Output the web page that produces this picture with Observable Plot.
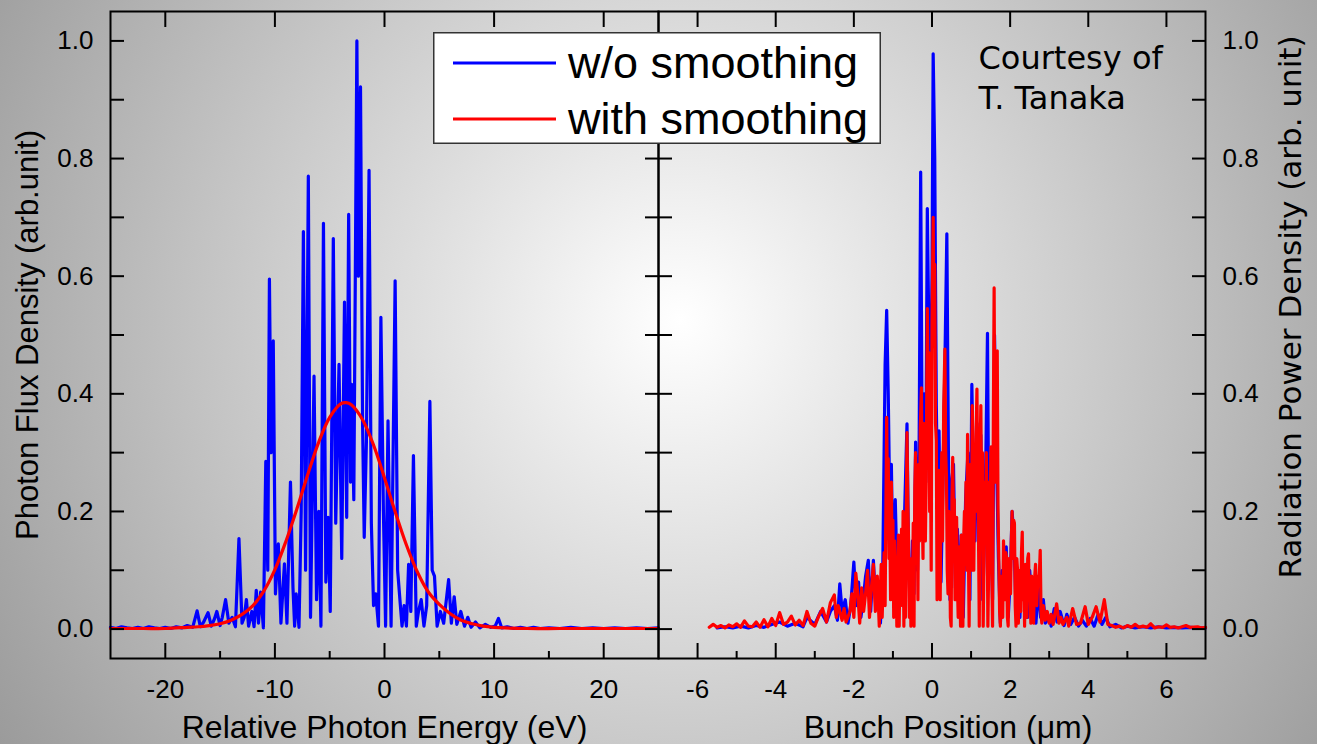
<!DOCTYPE html>
<html>
<head>
<meta charset="utf-8">
<script src="https://cdn.jsdelivr.net/npm/d3@7"></script>
<script src="https://cdn.jsdelivr.net/npm/@observablehq/plot@0.6"></script>
<style>
  html, body { margin: 0; padding: 0; }
  #page {
    position: relative; width: 1317px; height: 744px; overflow: hidden;
    background: radial-gradient(circle at 680px 320px, #ffffff 0px, #9b9b9b 801px);
    font-family: "Liberation Sans", Arial, sans-serif;
  }
  .layer { position: absolute; left: 0; top: 0; }
</style>
</head>
<body>
<div id="page"></div>
<script>
// ---------- tick values ----------
const leftXMajor = [-20, -10, 0, 10, 20];
const leftXMinor = [-15, -5, 5, 15];
const rightXMajor = [-6, -4, -2, 0, 2, 4, 6];
const rightXMinor = [-5, -3, -1, 1, 3, 5];
const yMajor = [0, 0.2, 0.4, 0.6, 0.8, 1.0];
const yMinor = [0, 0.1, 0.2, 0.3, 0.4, 0.5, 0.6, 0.7, 0.8, 0.9, 1.0];

// ---------- text ----------
const leftXTitle = "Relative Photon Energy (eV)";
const rightXTitle = "Bunch Position (μm)";
const leftYTitle = "Photon Flux Density (arb.unit)";
const rightYTitle = "Radiation Power Density (arb. unit)";
const seriesNames = ["w/o smoothing", "with smoothing"];
const seriesColors = ["#0000ff", "#ff0000"];
const courtesy = "Courtesy of\nT. Tanaka";

// ---------- left panel: spectrum w/o smoothing [eV, value] ----------
const spectrumRaw = [
  [-25,0.003],[-24.5,0.001],[-24,0.004],[-23.5,0.002],[-23,0.001],[-22.5,0.003],[-22,0.001],
  [-21.5,0.004],[-21,0.002],[-20.5,0.001],[-20,0.003],[-19.5,0.001],[-19,0.004],[-18.5,0.002],
  [-18,0.006],[-17.5,0.003],[-17.1,0.031],[-16.8,0.004],[-16.5,0.012],[-16.1,0.028],[-15.8,0.005],
  [-15.5,0.018],[-15.3,0.03],[-15,0.006],[-14.8,0.02],[-14.5,0.05],[-14.2,0.01],[-13.9,0.02],
  [-13.6,0.004],[-13.28,0.154],[-13.0,0.01],[-12.8,0.02],[-12.6,0.05],[-12.4,0.005],[-12.1,0.03],
  [-11.9,0.004],[-11.7,0.066],[-11.5,0.01],[-11.3,0.063],[-11.05,0.002],[-10.83,0.285],[-10.65,0.1],
  [-10.5,0.595],[-10.35,0.3],[-10.15,0.49],[-9.95,0.06],[-9.69,0.145],[-9.45,0.01],[-9.13,0.111],
  [-8.9,0.01],[-8.58,0.25],[-8.35,0.07],[-8.2,0.005],[-8.06,0.06],[-7.8,0.003],[-7.6,0.2],
  [-7.4,0.676],[-7.2,0.1],[-6.95,0.77],[-6.75,0.02],[-6.43,0.43],[-6.2,0.05],[-6.0,0.2],
  [-5.8,0.005],[-5.57,0.69],[-5.35,0.08],[-5.15,0.19],[-4.95,0.03],[-4.67,0.664],[-4.45,0.18],
  [-4.15,0.45],[-3.9,0.12],[-3.65,0.556],[-3.45,0.19],[-3.27,0.705],[-3.1,0.25],[-3.0,0.416],
  [-2.8,0.22],[-2.52,1.0],[-2.38,0.6],[-2.19,0.922],[-2.0,0.35],[-1.85,0.156],[-1.65,0.32],
  [-1.41,0.78],[-1.2,0.18],[-1.0,0.04],[-0.8,0.06],[-0.55,0.005],[-0.33,0.53],[-0.1,0.2],
  [0.1,0.005],[0.32,0.354],[0.6,0.005],[0.97,0.592],[1.2,0.1],[1.45,0.04],[1.6,0.005],
  [1.79,0.04],[2.0,0.005],[2.2,0.11],[2.4,0.03],[2.64,0.295],[2.9,0.005],[3.1,0.03],
  [3.35,0.05],[3.6,0.005],[3.85,0.04],[4.14,0.387],[4.35,0.1],[4.56,0.09],[4.8,0.005],
  [5.1,0.03],[5.4,0.01],[5.85,0.084],[6.1,0.01],[6.36,0.055],[6.6,0.008],[6.96,0.03],
  [7.3,0.005],[7.6,0.02],[7.9,0.003],[8.3,0.012],[8.7,0.002],[9.2,0.008],[9.7,0.003],
  [10.1,0.005],[10.4,0.018],[10.7,0.002],[11.2,0.004],[11.8,0.001],[12.4,0.003],[13,0.001],
  [13.6,0.003],[14.2,0.001],[15,0.002],[16,0.001],[17,0.003],[18,0.001],[19,0.002],
  [20,0.001],[21,0.002],[22,0.001],[23,0.002],[24,0.001],[25,0.002]
];

// ---------- left panel: spectrum with smoothing [eV, value] ----------
const spectrumSmooth = [
  [-25,0.001],[-22,0.001],[-20,0.001],[-18,0.003],[-17,0.004],[-16,0.006],[-15,0.009],
  [-14,0.015],[-13,0.025],[-12,0.04],[-11,0.065],[-10,0.101],[-9,0.149],[-8,0.204],
  [-7,0.263],[-6,0.318],[-5,0.36],[-4,0.383],[-3.5,0.385],[-3,0.381],[-2,0.356],
  [-1,0.313],[0,0.257],[1,0.198],[2,0.143],[3,0.097],[4,0.063],[5,0.042],[6,0.026],
  [7,0.015],[8,0.009],[9,0.005],[10,0.003],[11,0.002],[13,0.001],[16,0.001],[20,0.001],[25,0.001]
];

// ---------- right panel: power w/o smoothing [µm, value] ----------
const powerRaw = [
  [-5.5,0.002],[-5.3,0.004],[-5.1,0.002],[-4.9,0.005],[-4.7,0.002],[-4.5,0.006],[-4.3,0.003],
  [-4.1,0.008],[-3.9,0.012],[-3.7,0.005],[-3.5,0.01],[-3.3,0.004],[-3.2,0.02],[-3.0,0.008],
  [-2.85,0.03],[-2.7,0.012],[-2.6,0.03],[-2.5,0.04],[-2.42,0.015],[-2.36,0.077],[-2.3,0.03],
  [-2.22,0.05],[-2.15,0.01],[-2.08,0.04],[-2.0,0.114],[-1.94,0.04],[-1.88,0.08],[-1.82,0.02],
  [-1.76,0.05],[-1.7,0.09],[-1.63,0.117],[-1.57,0.03],[-1.5,0.117],[-1.44,0.04],[-1.38,0.08],
  [-1.32,0.01],[-1.26,0.1],[-1.2,0.45],[-1.16,0.542],[-1.12,0.4],[-1.08,0.2],[-1.04,0.28],
  [-1.0,0.1],[-0.94,0.22],[-0.88,0.05],[-0.8,0.15],[-0.74,0.04],[-0.7,0.2],[-0.64,0.349],
  [-0.6,0.12],[-0.55,0.02],[-0.5,0.15],[-0.46,0.06],[-0.42,0.318],[-0.37,0.1],[-0.33,0.3],
  [-0.29,0.777],[-0.25,0.3],[-0.2,0.4],[-0.16,0.25],[-0.12,0.715],[-0.08,0.5],[-0.04,0.35],
  [0.0,0.6],[0.03,0.978],[0.07,0.8],[0.11,0.38],[0.15,0.2],[0.18,0.337],[0.23,0.08],
  [0.28,0.25],[0.33,0.45],[0.38,0.672],[0.42,0.3],[0.46,0.05],[0.5,0.25],[0.55,0.28],
  [0.6,0.07],[0.65,0.17],[0.7,0.03],[0.75,0.16],[0.8,0.02],[0.86,0.22],[0.92,0.3],
  [0.97,0.05],[1.02,0.416],[1.06,0.25],[1.1,0.15],[1.15,0.35],[1.2,0.15],[1.25,0.33],
  [1.3,0.05],[1.36,0.2],[1.42,0.503],[1.46,0.1],[1.5,0.25],[1.55,0.05],[1.6,0.5],
  [1.65,0.3],[1.7,0.12],[1.75,0.01],[1.8,0.1],[1.85,0.06],[1.9,0.14],[1.95,0.02],
  [2.0,0.08],[2.05,0.2],[2.1,0.15],[2.15,0.03],[2.2,0.1],[2.25,0.02],[2.3,0.12],
  [2.35,0.06],[2.4,0.1],[2.45,0.02],[2.5,0.1],[2.55,0.05],[2.6,0.08],[2.66,0.01],
  [2.72,0.07],[2.78,0.02],[2.85,0.05],[2.9,0.01],[3.0,0.02],[3.05,0.005],[3.13,0.035],
  [3.2,0.012],[3.28,0.03],[3.38,0.006],[3.45,0.025],[3.55,0.008],[3.65,0.02],[3.75,0.005],
  [3.85,0.015],[3.95,0.005],[4.05,0.018],[4.15,0.005],[4.25,0.025],[4.35,0.008],[4.45,0.02],
  [4.55,0.004],[4.7,0.008],[4.85,0.002],[5.0,0.005],[5.2,0.002],[5.4,0.004],[5.6,0.002],
  [5.8,0.004],[6.0,0.002],[6.2,0.003],[6.4,0.002],[6.6,0.003],[6.8,0.002],[7.0,0.002]
];

// ---------- right panel: power with smoothing [µm, value] ----------
const powerSmooth = [
  [-5.7,0.003],[-5.6,0.008],[-5.5,0.003],[-5.4,0.006],[-5.3,0.002],[-5.2,0.007],[-5.1,0.004],
  [-5.0,0.009],[-4.9,0.003],[-4.8,0.014],[-4.7,0.005],[-4.6,0.004],[-4.5,0.012],[-4.4,0.003],
  [-4.3,0.016],[-4.2,0.004],[-4.1,0.018],[-4.0,0.006],[-3.9,0.028],[-3.8,0.008],[-3.7,0.012],
  [-3.6,0.022],[-3.5,0.007],[-3.4,0.015],[-3.3,0.006],[-3.2,0.03],[-3.1,0.01],[-3.0,0.005],
  [-2.9,0.022],[-2.8,0.035],[-2.7,0.012],[-2.6,0.045],[-2.5,0.058],[-2.45,0.02],[-2.4,0.04],
  [-2.3,0.015],[-2.25,0.035],[-2.2,0.012],[-2.1,0.03],[-2.05,0.06],[-2.0,0.02],[-1.95,0.095],
  [-1.9,0.06],[-1.85,0.01],[-1.8,0.07],[-1.75,0.03],[-1.7,0.06],[-1.65,0.1],[-1.6,0.02],
  [-1.55,0.07],[-1.5,0.11],[-1.45,0.03],[-1.4,0.09],[-1.35,0.005],
  [-1.3,0.11],[-1.275,0.02],[-1.25,0.08],[-1.225,0.13],[-1.2,0.04],[-1.18,0.2],[-1.16,0.36],
  [-1.14,0.22],[-1.12,0.29],[-1.1,0.12],[-1.08,0.19],[-1.06,0.05],[-1.04,0.25],[-1.02,0.1],
  [-1.0,0.185],[-0.98,0.02],[-0.96,0.15],[-0.94,0.08],[-0.92,0.12],[-0.9,0.005],[-0.88,0.09],
  [-0.86,0.16],[-0.84,0.005],[-0.82,0.12],[-0.8,0.05],[-0.78,0.17],[-0.76,0.04],[-0.74,0.2],
  [-0.72,0.005],[-0.7,0.14],[-0.68,0.02],[-0.66,0.18],[-0.64,0.334],[-0.62,0.22],[-0.6,0.15],
  [-0.58,0.02],[-0.56,0.12],[-0.54,0.005],[-0.52,0.105],[-0.5,0.04],[-0.48,0.18],[-0.46,0.005],
  [-0.44,0.24],[-0.42,0.3],[-0.4,0.12],[-0.38,0.2],[-0.36,0.05],[-0.34,0.28],[-0.32,0.15],
  [-0.3,0.34],[-0.27,0.41],[-0.25,0.2],[-0.23,0.12],[-0.21,0.35],[-0.19,0.3],[-0.17,0.15],
  [-0.15,0.25],[-0.12,0.545],[-0.1,0.4],[-0.08,0.47],[-0.06,0.2],[-0.04,0.3],[-0.02,0.1],
  [0.0,0.52],[0.03,0.7],[0.05,0.55],[0.07,0.62],[0.09,0.35],[0.11,0.32],[0.13,0.05],
  [0.15,0.18],[0.17,0.27],[0.19,0.1],[0.21,0.05],[0.23,0.22],[0.25,0.3],[0.27,0.15],
  [0.3,0.38],[0.33,0.476],[0.35,0.3],[0.37,0.26],[0.39,0.1],[0.41,0.06],[0.43,0.2],
  [0.45,0.17],[0.47,0.02],[0.49,0.005],[0.51,0.22],[0.53,0.292],[0.55,0.2],[0.57,0.22],
  [0.59,0.05],[0.61,0.12],[0.63,0.19],[0.65,0.08],[0.67,0.02],[0.69,0.14],[0.71,0.13],
  [0.73,0.005],[0.75,0.16],[0.77,0.1],[0.79,0.005],[0.81,0.15],[0.83,0.2],[0.85,0.11],
  [0.87,0.25],[0.89,0.1],[0.91,0.331],[0.93,0.15],[0.95,0.005],[0.97,0.2],[0.99,0.28],
  [1.01,0.1],[1.03,0.38],[1.05,0.3],[1.07,0.1],[1.09,0.25],[1.11,0.2],[1.13,0.33],
  [1.15,0.408],[1.17,0.25],[1.19,0.16],[1.21,0.005],[1.23,0.3],[1.25,0.38],[1.27,0.2],
  [1.29,0.3],[1.31,0.005],[1.33,0.12],[1.35,0.25],[1.37,0.15],[1.39,0.3],[1.41,0.2],
  [1.43,0.005],[1.45,0.1],[1.47,0.25],[1.49,0.2],[1.51,0.31],[1.53,0.1],[1.55,0.005],
  [1.57,0.35],[1.59,0.58],[1.61,0.3],[1.63,0.25],[1.65,0.4],[1.67,0.473],[1.69,0.2],
  [1.71,0.12],[1.73,0.03],[1.75,0.005],[1.77,0.08],[1.79,0.09],[1.81,0.02],[1.83,0.15],
  [1.85,0.1],[1.87,0.05],[1.89,0.13],[1.91,0.12],[1.93,0.02],[1.95,0.005],[1.97,0.12],
  [1.99,0.1],[2.01,0.06],[2.03,0.15],[2.05,0.2],[2.07,0.12],[2.09,0.185],[2.11,0.18],
  [2.13,0.04],[2.15,0.005],[2.17,0.12],[2.19,0.1],[2.21,0.01],[2.23,0.08],[2.25,0.1],
  [2.27,0.03],[2.29,0.13],[2.31,0.165],[2.33,0.05],[2.35,0.1],[2.37,0.005],[2.39,0.11],
  [2.41,0.06],[2.43,0.02],[2.45,0.12],[2.47,0.128],[2.49,0.05],[2.51,0.07],[2.53,0.01],
  [2.55,0.09],[2.57,0.04],[2.6,0.01],[2.62,0.08],[2.65,0.11],[2.68,0.04],[2.71,0.09],
  [2.74,0.08],[2.77,0.134],[2.79,0.03],[2.81,0.01],
  [2.85,0.04],[2.9,0.015],[2.95,0.03],[3.0,0.01],[3.05,0.025],[3.1,0.008],[3.19,0.043],
  [3.25,0.01],[3.3,0.02],[3.35,0.008],[3.45,0.02],[3.5,0.005],[3.6,0.035],[3.7,0.008],
  [3.8,0.01],[3.92,0.038],[4.0,0.008],[4.1,0.02],[4.2,0.038],[4.3,0.012],[4.41,0.05],
  [4.5,0.008],[4.6,0.006],[4.7,0.003],[4.8,0.005],[4.9,0.002],[5.0,0.006],[5.1,0.003],
  [5.2,0.008],[5.3,0.003],[5.4,0.005],[5.5,0.003],[5.6,0.009],[5.7,0.002],[5.8,0.004],
  [5.9,0.003],[6.0,0.007],[6.1,0.003],[6.2,0.004],[6.3,0.002],[6.5,0.006],[6.6,0.003],
  [6.8,0.004],[6.9,0.002],[7.0,0.003]
];

// ---------- layout ----------
const W = 1317, H = 744;
const frameTop = 11, frameBottom = 658;
const leftL = 110, divider = 658, rightR = 1205;
const yDomain = [-0.05, 1.05];
const lw = 3.2;
const fmtX = d => String(d);
const fmtY = d => d.toFixed(1);
const blank = () => "";
const sans = "'Liberation Sans', Arial, sans-serif";
const verd = "'DejaVu Sans', sans-serif";

function commonAxes(xMajor, xMinor) {
  return [
    Plot.frame({stroke: "black", strokeWidth: 2}),
    Plot.axisX({anchor: "bottom", ticks: xMajor, tickSize: -15, tickFormat: blank, label: null, strokeWidth: 2}),
    Plot.axisX({anchor: "bottom", ticks: xMinor, tickSize: -7, tickFormat: blank, label: null, strokeWidth: 2}),
    Plot.axisX({anchor: "top", ticks: xMajor, tickSize: -15, tickFormat: blank, label: null, strokeWidth: 2}),
    Plot.axisX({anchor: "bottom", ticks: xMajor, tickSize: 0, tickPadding: 21, tickFormat: fmtX,
                label: null, fontSize: 26, fill: "black"}),
    Plot.axisY({anchor: "left", ticks: yMinor, tickSize: -14, tickFormat: blank, label: null, strokeWidth: 2}),
    Plot.axisY({anchor: "right", ticks: yMinor, tickSize: -14, tickFormat: blank, label: null, strokeWidth: 2})
  ];
}

const leftPlot = Plot.plot({
  width: W, height: H,
  marginLeft: leftL, marginRight: W - divider, marginTop: frameTop, marginBottom: H - frameBottom,
  x: {domain: [-25, 25], label: null},
  y: {domain: yDomain, label: null},
  style: {background: "transparent", fontFamily: sans, color: "black"},
  marks: [
    Plot.line(spectrumRaw, {x: d => d[0], y: d => d[1], stroke: seriesColors[0], strokeWidth: lw}),
    Plot.line(spectrumSmooth, {x: d => d[0], y: d => d[1], stroke: seriesColors[1], strokeWidth: lw, curve: "catmull-rom"}),
    ...commonAxes(leftXMajor, leftXMinor),
    Plot.axisY({anchor: "left", ticks: yMajor, tickSize: 0, tickPadding: 17, tickFormat: fmtY,
                label: null, fontSize: 26, fill: "black"}),
    Plot.text([leftXTitle], {text: d => d, frameAnchor: "bottom", dy: 69, lineAnchor: "middle",
                textAnchor: "middle", fontSize: 32, fill: "black"}),
    Plot.text([leftYTitle], {text: d => d, frameAnchor: "left", dx: -82, rotate: -90,
                textAnchor: "middle", lineAnchor: "middle", fontSize: 31, fill: "black"})
  ]
});

const rightPlot = Plot.plot({
  width: W, height: H,
  marginLeft: divider, marginRight: W - rightR, marginTop: frameTop, marginBottom: H - frameBottom,
  x: {domain: [-7, 7], label: null},
  y: {domain: yDomain, label: null},
  style: {background: "transparent", fontFamily: sans, color: "black"},
  marks: [
    Plot.line(powerRaw, {x: d => d[0], y: d => d[1], stroke: seriesColors[0], strokeWidth: lw}),
    Plot.line(powerSmooth, {x: d => d[0], y: d => d[1], stroke: seriesColors[1], strokeWidth: lw}),
    ...commonAxes(rightXMajor, rightXMinor),
    Plot.axisY({anchor: "right", ticks: yMajor, tickSize: 0, tickPadding: 17, tickFormat: fmtY,
                label: null, fontSize: 26, fill: "black"}),
    Plot.text([rightXTitle], {text: d => d, frameAnchor: "bottom", dx: 16, dy: 69, lineAnchor: "middle",
                textAnchor: "middle", fontSize: 32, fill: "black"}),
    Plot.text([rightYTitle], {text: d => d, frameAnchor: "right", dx: 86, dy: -28, rotate: -90,
                textAnchor: "middle", lineAnchor: "middle", fontSize: 31, fontFamily: verd, fill: "black"}),
    Plot.text([courtesy], {text: d => d, frameAnchor: "top-left", dx: 320, dy: 29, textAnchor: "start",
                lineAnchor: "top", lineHeight: 1.25, fontSize: 32, fontFamily: verd, fill: "black"})
  ]
});

const page = document.getElementById("page");
leftPlot.setAttribute("class", (leftPlot.getAttribute("class") || "") + " layer");
rightPlot.setAttribute("class", (rightPlot.getAttribute("class") || "") + " layer");
page.appendChild(leftPlot);
page.appendChild(rightPlot);

// ---------- legend (inside the chart area, as in the original) ----------
const legend = d3.select(page).append("svg").attr("id", "legend")
  .attr("width", 448).attr("height", 112)
  .style("position", "absolute").style("left", "433px").style("top", "32px");
legend.append("rect").attr("x", 0.75).attr("y", 0.75).attr("width", 446.5).attr("height", 110.5)
  .attr("fill", "white").attr("stroke", "#333").attr("stroke-width", 1.5);
seriesNames.forEach((name, i) => {
  const cy = 31 + i * 56;
  legend.append("line").attr("x1", 20).attr("x2", 123).attr("y1", cy).attr("y2", cy)
    .attr("stroke", seriesColors[i]).attr("stroke-width", 3);
  legend.append("text").attr("x", 135).attr("y", cy + 15)
    .attr("font-family", sans).attr("font-size", 45)
    .attr("fill", "black").text(name);
});
</script>
</body>
</html>
